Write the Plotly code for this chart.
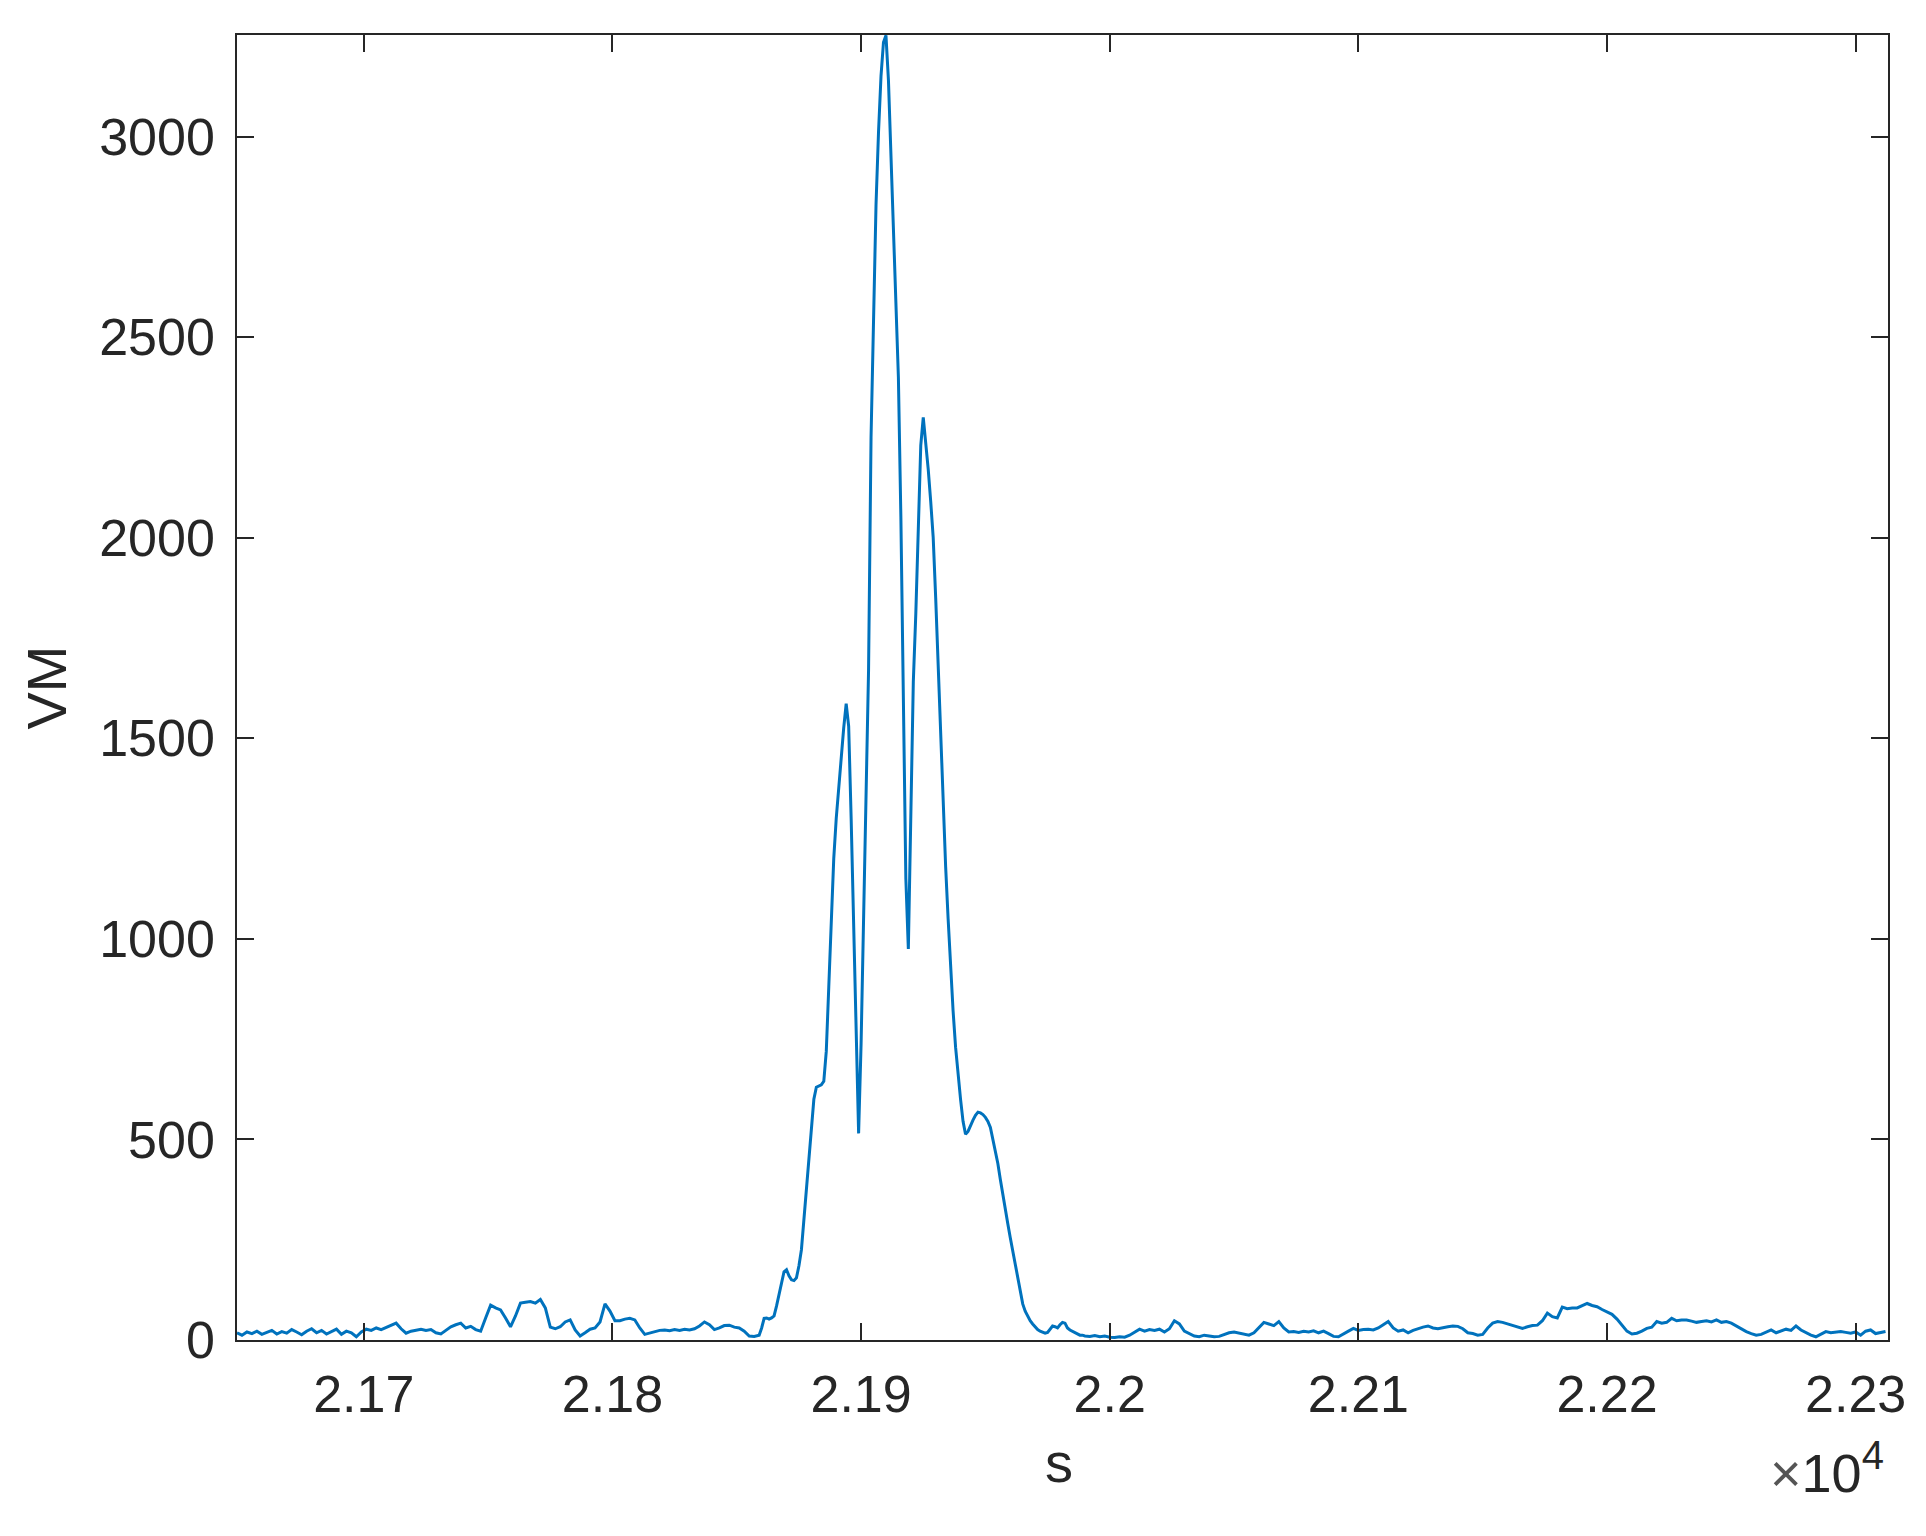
import plotly.graph_objects as go

# ---- data ----
# time grids (s)
t_left = list(range(21649, 21858, 2))
t_peak = list(range(21859, 21990, 1))
t_right = list(range(21990, 22313, 2))

vm_left = [
    18, 12, 20, 16, 22, 14, 19, 24, 15, 21,
    17, 26, 20, 13, 22, 28, 18, 24, 15, 21,
    27, 14, 22, 18, 8, 20, 27, 24, 30, 26,
    32, 38, 42, 28, 17, 22, 25, 27, 24, 26,
    18, 15, 24, 33, 38, 42, 30, 34, 26, 22,
    55, 87, 80, 75, 55, 33, 60, 92, 94, 96,
    92, 101, 80, 32, 28, 33, 45, 50, 25, 10,
    18, 27, 30, 45, 90, 72, 48, 48, 52, 54,
    50, 30, 14, 17, 20, 24, 25, 23, 26, 24,
    27, 25, 28, 35, 45, 38, 26, 30, 36, 37,
    32, 30, 22, 10, 9,
]

vm_peak = [
    12, 30, 54, 55, 52, 55, 60, 85, 115, 145,
    170, 175, 160, 150, 148, 155, 185, 225, 300, 390,
    465, 540, 600, 630, 633, 636, 645, 720, 880, 1060,
    1200, 1300, 1380, 1450, 1525, 1586, 1530, 1300, 1060, 800,
    515, 740, 1052, 1360, 1670, 2250, 2580, 2830, 3010, 3150,
    3235, 3252, 3140, 2960, 2780, 2590, 2400, 2050, 1550, 1150,
    975, 1330, 1640, 1810, 2000, 2230, 2300, 2240, 2170, 2090,
    2000, 1850, 1680, 1500, 1340, 1180, 1050, 930, 820, 730,
    660, 600, 545, 513, 520, 535, 548, 560, 568, 566,
    562, 555, 545, 530, 500, 470, 440, 400, 360, 325,
    290, 255, 220, 185, 150, 115, 90, 72, 58, 48,
    40, 32, 26, 22, 20, 17, 19, 28, 35, 33,
    30, 38, 44, 42, 30, 25, 22, 18, 14, 12,
    12,
]

vm_right = [
    10, 9, 11, 8, 10, 7, 6, 8, 7, 12,
    20, 27, 22, 26, 24, 27, 20, 28, 48, 40,
    22, 15, 10, 8, 12, 10, 8, 9, 14, 18,
    20, 17, 15, 12, 18, 32, 44, 40, 36, 46,
    30, 20, 21, 19, 22, 20, 23, 18, 22, 16,
    9, 8, 14, 22, 29, 24, 26, 27, 25, 30,
    38, 46, 30, 22, 25, 18, 24, 29, 32, 35,
    30, 28, 31, 33, 35, 34, 28, 18, 16, 12,
    14, 30, 42, 46, 44, 40, 36, 32, 29, 33,
    36, 37, 48, 67, 58, 55, 82, 78, 80, 80,
    86, 91, 86, 83, 76, 71, 64, 52, 38, 22,
    15, 17, 22, 29, 32, 46, 42, 44, 54, 48,
    50, 50, 47, 44, 46, 48, 45, 50, 44, 46,
    42, 35, 26, 21, 16, 12, 14, 20, 25, 18,
    22, 27, 24, 35, 25, 18, 12, 8, 15, 21,
    18, 20, 21, 19, 17, 20, 12, 22, 25, 16,
    18, 21,
]

x_ticks = [21700, 21800, 21900, 22000, 22100, 22200, 22300]
x_tick_labels = ["2.17", "2.18", "2.19", "2.2", "2.21", "2.22", "2.23"]
y_ticks = [0, 500, 1000, 1500, 2000, 2500, 3000]
y_tick_labels = ["0", "500", "1000", "1500", "2000", "2500", "3000"]

time_s = t_left + t_peak + t_right
vm = vm_left + vm_peak + vm_right
assert len(t_left) == len(vm_left), (len(t_left), len(vm_left))
assert len(t_peak) == len(vm_peak), (len(t_peak), len(vm_peak))
assert len(t_right) == len(vm_right), (len(t_right), len(vm_right))

# ---- figure ----
# the page body has an 8 px margin, so the figure is placed at (8, 8)
OFF = 8
PL, PR, PT, PB = 237, 1888, 35, 1340   # wanted plot box in page pixels
W, H = 1910, 1520
L = PL - OFF
T = PT - OFF
R = OFF + W - PR
B = OFF + H - PB

FONT = "Liberation Sans, Arial, Helvetica, sans-serif"
TXT = "#262626"
AX = "#262626"
FS = 52
FS_LABEL = 56

fig = go.Figure()
fig.add_trace(go.Scatter(
    x=time_s, y=vm, mode="lines",
    line=dict(color="#0072BD", width=3),
    showlegend=False, hoverinfo="skip",
))

axis_common = dict(
    showgrid=False, zeroline=False,
    showline=True, linecolor=AX, linewidth=1.5,
    mirror="ticks", ticks="inside", ticklen=17, tickwidth=1.5, tickcolor=AX,
    tickfont=dict(family=FONT, size=FS, color=TXT),
)

fig.update_layout(
    width=W, height=H, autosize=False,
    margin=dict(l=L, r=R, t=T, b=B, pad=0),
    paper_bgcolor="white", plot_bgcolor="white",
    xaxis=dict(range=[21649, 22313], tickmode="array",
               tickvals=x_ticks, ticktext=x_tick_labels,
               ticklabelstandoff=8, **axis_common),
    yaxis=dict(range=[0, 3253], tickmode="array",
               tickvals=y_ticks, ticktext=y_tick_labels,
               ticklabelstandoff=10, **axis_common),
)

pw = PR - PL
ph = PB - PT

def px(xp):
    return (xp - PL) / pw

def py(yp):
    return (PB - yp) / ph

fig.add_annotation(text="s", xref="paper", yref="paper",
                   x=px(1059), y=py(1462), xanchor="center", yanchor="middle",
                   showarrow=False, font=dict(family=FONT, size=FS_LABEL, color=TXT))
fig.add_annotation(text="VM", xref="paper", yref="paper",
                   x=px(46), y=0.5, xanchor="center", yanchor="middle",
                   textangle=-90, showarrow=False,
                   font=dict(family=FONT, size=FS_LABEL, color=TXT))
fig.add_annotation(text="<span style='color:#555555'>×</span>10<sup><span style='font-size:40px'>4</span></sup>",
                   xref="paper", yref="paper",
                   x=px(1886), y=py(1468), xanchor="right", yanchor="middle",
                   showarrow=False, font=dict(family=FONT, size=54, color=TXT))

fig.write_html("out.html")
